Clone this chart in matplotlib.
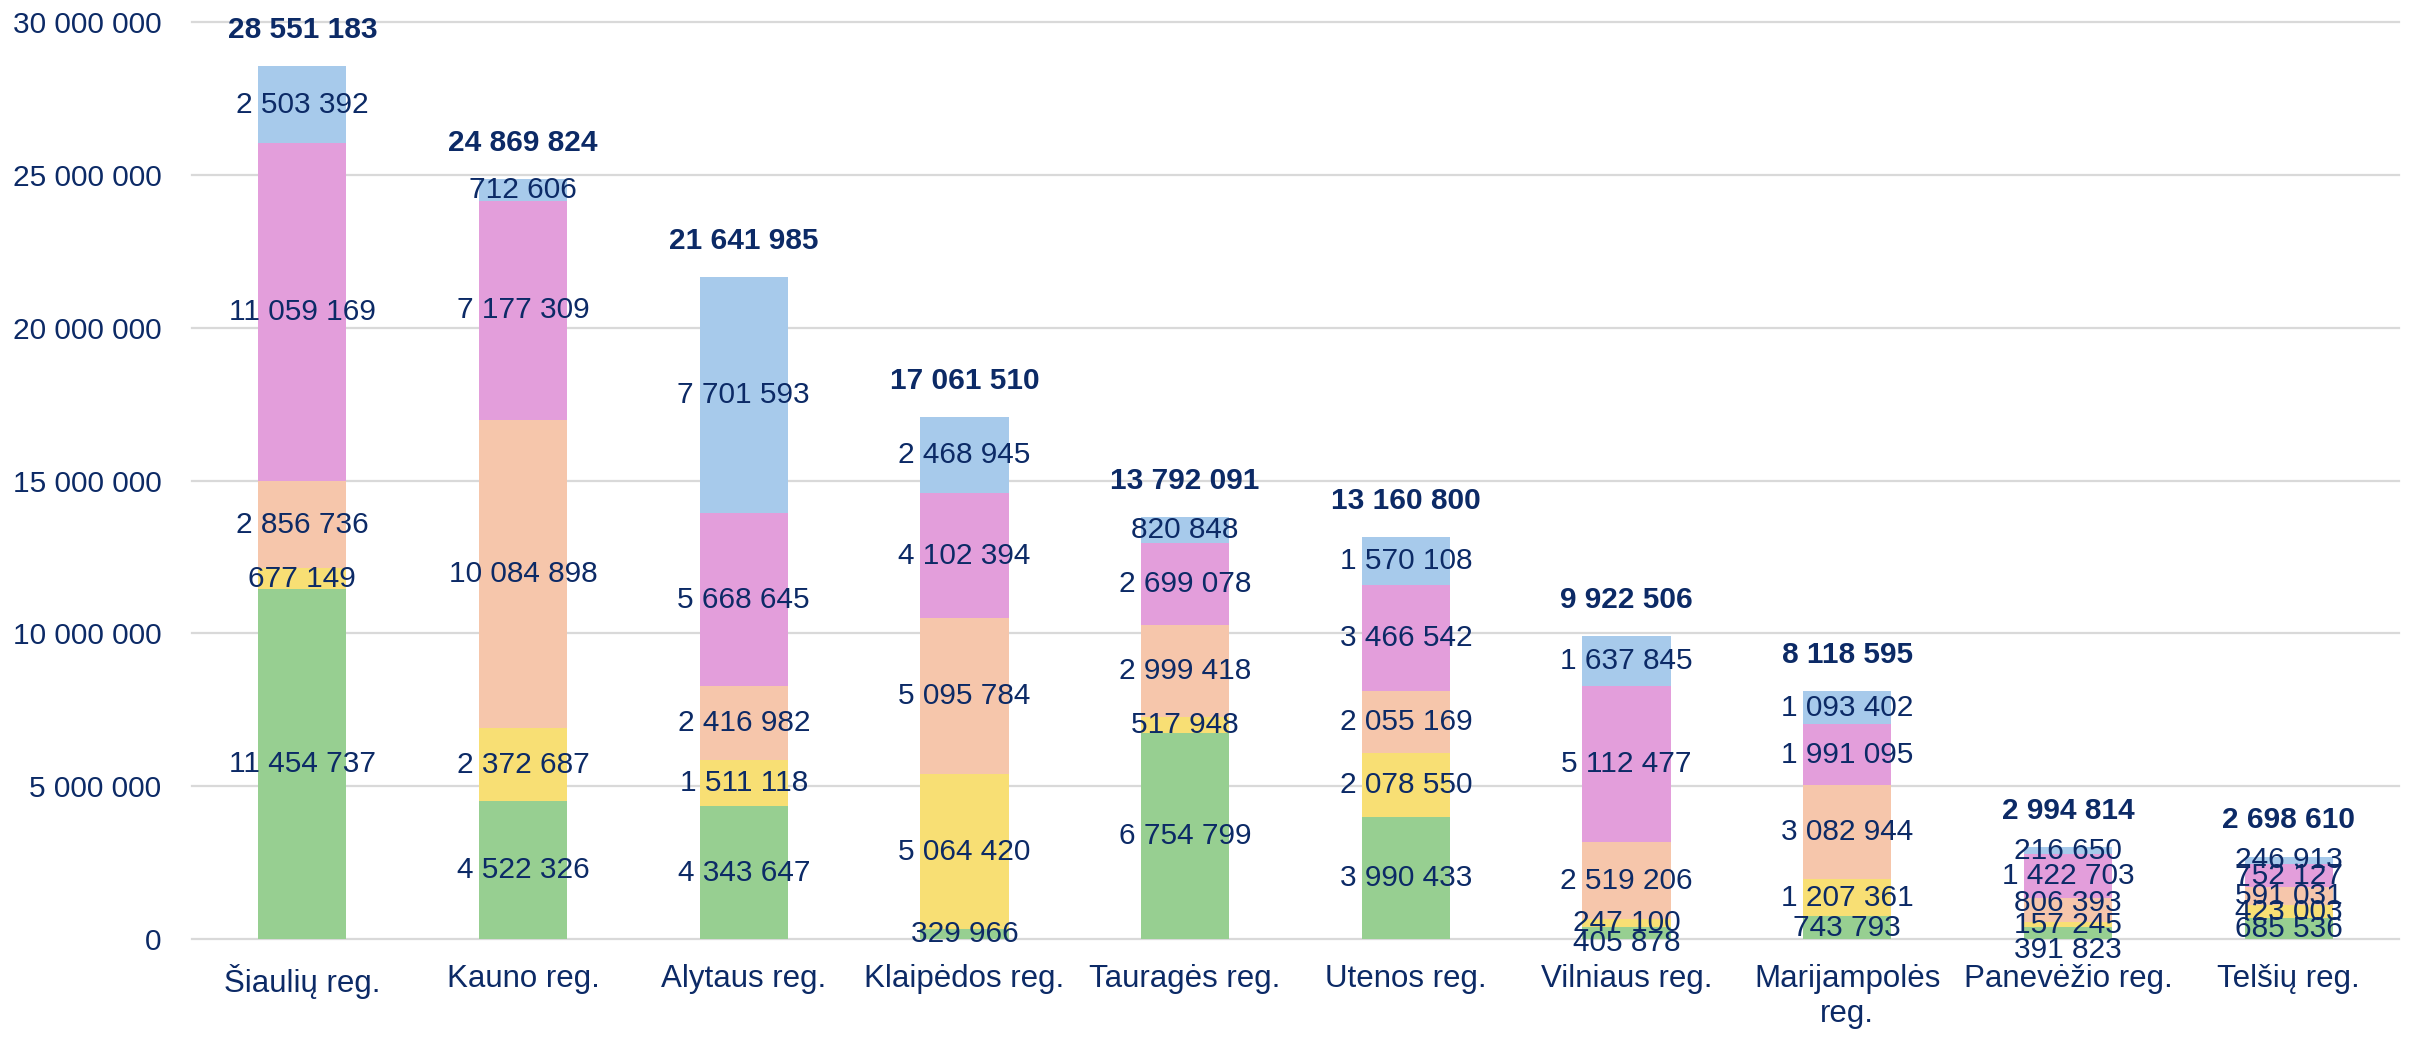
import matplotlib
matplotlib.use("Agg")
import matplotlib.pyplot as plt
from matplotlib.ticker import FuncFormatter, MultipleLocator
import numpy as np

regions = ["Šiaulių reg.", "Kauno reg.", "Alytaus reg.", "Klaipėdos reg.", "Tauragės reg.",
           "Utenos reg.", "Vilniaus reg.", "Marijampolės\nreg.", "Panevėžio reg.", "Telšių reg."]

s_green  = [11454737, 4522326, 4343647, 329966, 6754799, 3990433, 405878, 743793, 391823, 685536]
s_yellow = [677149, 2372687, 1511118, 5064420, 517948, 2078550, 247100, 1207361, 157245, 423003]
s_peach  = [2856736, 10084898, 2416982, 5095784, 2999418, 2055169, 2519206, 3082944, 806393, 591031]
s_pink   = [11059169, 7177309, 5668645, 4102394, 2699078, 3466542, 5112477, 1991095, 1422703, 752127]
s_blue   = [2503392, 712606, 7701593, 2468945, 820848, 1570108, 1637845, 1093402, 216650, 246913]
totals   = [28551183, 24869824, 21641985, 17061510, 13792091, 13160800, 9922506, 8118595, 2994814, 2698610]

series = [s_green, s_yellow, s_peach, s_pink, s_blue]
colors = ["#97CF91", "#F8DF74", "#F6C6AB", "#E39EDB", "#A7CAEB"]
text_color = "#0C2A66"
grid_color = "#D9D9D9"

# label nudges (pixels, positive = up) to mimic the reference's overlap avoidance
label_nudge = {(6, 0): -10, (8, 0): -17, (8, 2): 7}

W, H, DPI = 2415, 1037, 100
fig = plt.figure(figsize=(W / DPI, H / DPI), dpi=DPI)
ax = fig.add_axes([192 / W, 1 - 939 / H, (2399 - 192) / W, (939 - 22) / H])

fam = ["Liberation Sans", "DejaVu Sans"]
fs = 21.5
fs_cat = 22.5

x = np.arange(len(regions))
bottom = np.zeros(len(regions))
for si, (vals, c) in enumerate(zip(series, colors)):
    vals = np.array(vals, dtype=float)
    ax.bar(x, vals, width=0.4, bottom=bottom, color=c, zorder=2)
    for j, v in enumerate(vals):
        yc = bottom[j] + v / 2
        dy = label_nudge.get((j, si), 0) * 72 / DPI
        ax.annotate(f"{int(v):,}".replace(",", " "), (x[j], yc), xytext=(0, dy),
                    textcoords="offset points", ha="center", va="center",
                    fontsize=fs, color=text_color, family=fam, zorder=3)
    bottom += vals

for j, t in enumerate(totals):
    ax.annotate(f"{t:,}".replace(",", " "), (x[j], bottom[j]), xytext=(0, 26),
                textcoords="offset points", ha="center", va="center",
                fontsize=fs, fontweight="bold", color=text_color, family=fam, zorder=3)

ax.set_xlim(-0.5, len(regions) - 0.5)
ax.set_ylim(0, 30000000)
ax.yaxis.set_major_locator(MultipleLocator(5000000))
ax.yaxis.set_major_formatter(FuncFormatter(lambda v, p: f"{int(v):,}".replace(",", " ")))
ax.set_xticks(x)
ax.set_xticklabels(regions)
ax.tick_params(axis="both", length=0, labelcolor=text_color)
ax.tick_params(axis="y", pad=22, labelsize=fs)
ax.tick_params(axis="x", pad=18, labelsize=fs_cat)
for lab in ax.get_xticklabels() + ax.get_yticklabels():
    lab.set_family(fam)
for sp in ax.spines.values():
    sp.set_visible(False)
ax.set_axisbelow(True)
ax.yaxis.grid(True, color=grid_color, linewidth=1.6)
for gl in ax.yaxis.get_gridlines():
    gl.set_clip_on(False)

fig.savefig("out.png", dpi=DPI)
